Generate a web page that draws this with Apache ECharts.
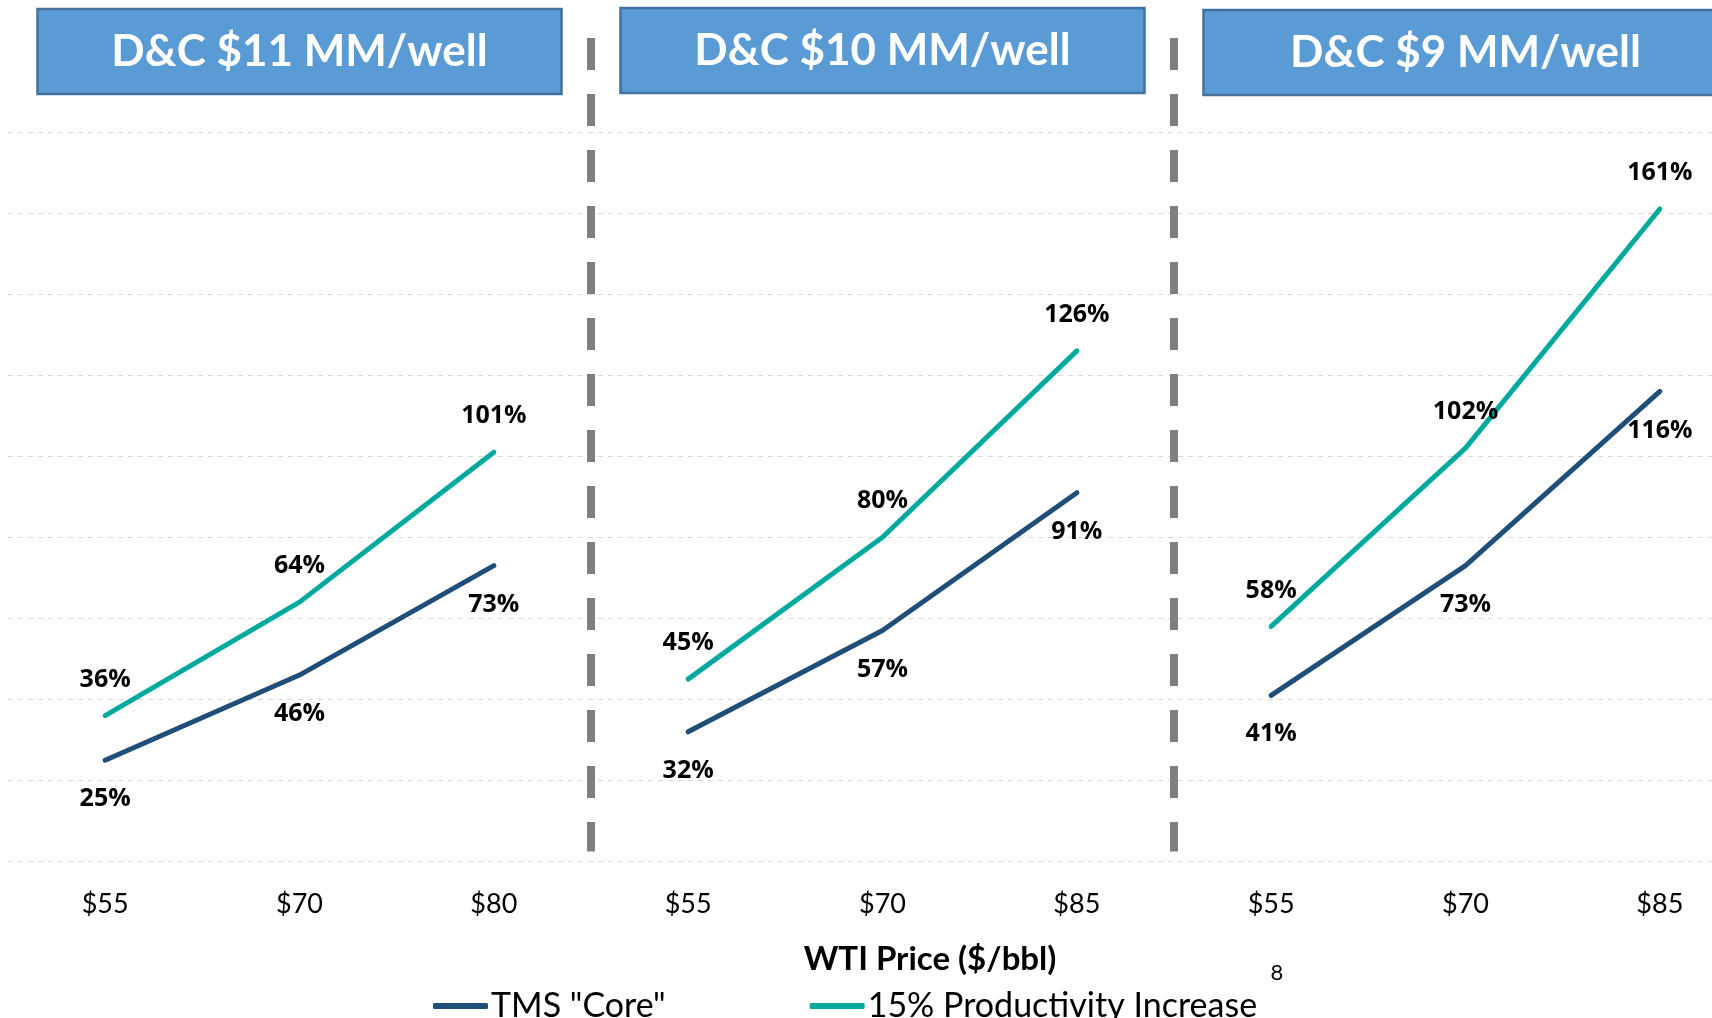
<!DOCTYPE html>
<html>
<head>
<meta charset="utf-8">
<script src="https://cdn.jsdelivr.net/npm/echarts@6/dist/echarts.min.js"></script>
<style>
html,body{margin:0;padding:0;background:#fff;}
#chart{width:1712px;height:1018px;}
</style>
</head>
<body>
<div id="chart"></div>
<script>
// ---- Data ----
const panelTitles = ['D&C $11 MM/well', 'D&C $10 MM/well', 'D&C $9 MM/well'];
const pricesP1 = ['$55', '$70', '$80'];
const pricesP2 = ['$55', '$70', '$85'];
const pricesP3 = ['$55', '$70', '$85'];
const coreP1 = [25, 46, 73];
const coreP2 = [32, 57, 91];
const coreP3 = [41, 73, 116];
const prodP1 = [36, 64, 101];
const prodP2 = [45, 80, 126];
const prodP3 = [58, 102, 161];
const yTicks = [0, 20, 40, 60, 80, 100, 120, 140, 160, 180];
const seriesNames = ['TMS "Core"', '15% Productivity Increase'];
const xAxisTitle = 'WTI Price ($/bbl)';
const pageNumber = '8';

// ---- Build ----
const panelCore = [coreP1, coreP2, coreP3];
const panelProd = [prodP1, prodP2, prodP3];
const categories = [].concat(pricesP1, pricesP2, pricesP3);

const CORE_COLOR = '#1F4E79';
const PROD_COLOR = '#00A99D';

const labelBase = {
  show: true,
  color: '#000',
  opacity: 1,
  fontFamily: 'Open Sans',
  fontWeight: 'bold',
  fontSize: 25,
  formatter: p => p.value[1] + '%'
};

function makeSeries(name, color, vals, pi, labelPos, dist) {
  return {
    name: name,
    type: 'line',
    symbol: 'circle',
    symbolSize: 1,
    showSymbol: true,
    showAllSymbol: true,
    color: color,
    itemStyle: { color: color, opacity: 1 },
    lineStyle: { width: 5, color: color, cap: 'round', join: 'round' },
    data: vals.map((v, i) => [pi * 3 + i, v]),
    label: Object.assign({ position: labelPos, distance: dist }, labelBase),
    labelLayout: { hideOverlap: false },
    emphasis: { disabled: true },
    z: 3
  };
}

const series = [];
panelCore.forEach((vals, pi) => series.push(makeSeries(seriesNames[0], CORE_COLOR, vals, pi, 'bottom', 26)));
panelProd.forEach((vals, pi) => series.push(makeSeries(seriesNames[1], PROD_COLOR, vals, pi, 'top', 23)));

const chart = echarts.init(document.getElementById('chart'), null, { renderer: 'canvas' });
chart.setOption({
  animation: false,
  backgroundColor: '#fff',
  grid: { left: 8, top: 132, width: 1749, height: 729.5, containLabel: false, outerBoundsMode: 'none' },
  xAxis: {
    type: 'category',
    data: categories,
    boundaryGap: true,
    axisLine: { show: false },
    axisTick: { show: false },
    axisLabel: { color: '#000', fontFamily: 'Lato', fontSize: 27, margin: 29, interval: 0 },
    splitLine: { show: false }
  },
  yAxis: {
    type: 'value',
    min: yTicks[0],
    max: yTicks[yTicks.length - 1],
    interval: yTicks[1] - yTicks[0],
    axisLine: { show: false },
    axisTick: { show: false },
    axisLabel: { show: false },
    splitLine: { show: true, lineStyle: { color: '#D9D9D9', width: 1, type: [5, 5] } }
  },
  legend: {
    data: [
      { name: seriesNames[0], icon: 'roundRect', itemStyle: { color: CORE_COLOR, opacity: 1 } },
      { name: seriesNames[1], icon: 'roundRect', itemStyle: { color: PROD_COLOR, opacity: 1 } }
    ],
    left: 428,
    top: 984,
    itemWidth: 55,
    itemHeight: 6,
    itemGap: 144,
    selectedMode: false,
    textStyle: { color: '#000', fontFamily: 'Lato', fontSize: 34, padding: [0, 0, 0, -2] }
  },
  series: series
});

// ---- Decorations positioned from the axis ----
const yBottom = chart.convertToPixel({ yAxisIndex: 0 }, yTicks[0]);
const graphics = [];
// dividers between panels
[2, 5].forEach(idx => {
  const xa = chart.convertToPixel({ xAxisIndex: 0 }, idx);
  const xb = chart.convertToPixel({ xAxisIndex: 0 }, idx + 1);
  const x = (xa + xb) / 2;
  graphics.push({
    type: 'line',
    shape: { x1: x, y1: 38, x2: x, y2: yBottom - 10 },
    style: { stroke: '#7F7F7F', lineWidth: 8, lineDash: [32, 24] },
    z: 1
  });
});
// title boxes
const boxYOffsets = [9, 8, 10];
panelTitles.forEach((t, pi) => {
  const cx = chart.convertToPixel({ xAxisIndex: 0 }, pi * 3 + 1);
  graphics.push({
    type: 'rect',
    shape: { x: cx - 262, y: boxYOffsets[pi], width: 524, height: 85 },
    style: { fill: '#5B9BD5', stroke: '#41719C', lineWidth: 2.5 },
    z: 5
  });
  graphics.push({
    type: 'text',
    x: cx, y: boxYOffsets[pi] + 43,
    style: {
      text: t, fill: '#fff', fontFamily: 'Lato', fontWeight: 'bold', fontSize: 44,
      align: 'center', verticalAlign: 'middle'
    },
    z: 6
  });
});
// x axis title
graphics.push({
  type: 'text', x: 930, y: 959,
  style: { text: xAxisTitle, fill: '#000', fontFamily: 'Lato', fontWeight: 'bold', fontSize: 33, align: 'center', verticalAlign: 'middle' },
  z: 6
});
// page number
graphics.push({
  type: 'text', x: 1277, y: 973,
  style: { text: pageNumber, fill: '#000', fontFamily: 'Lato', fontSize: 22, align: 'center', verticalAlign: 'middle' },
  z: 6
});
chart.setOption({ graphic: graphics });
</script>
</body>
</html>
